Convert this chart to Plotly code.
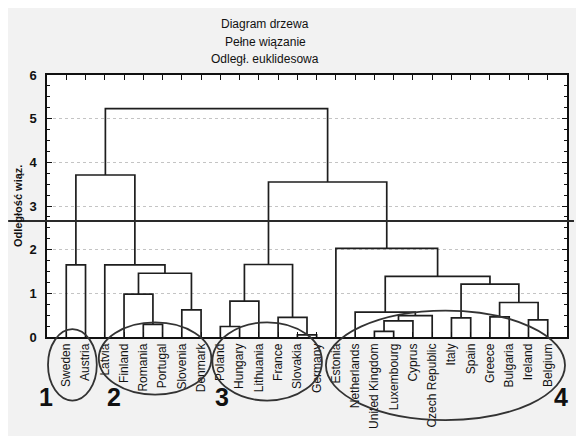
import plotly.graph_objects as go

# ---------------- data ----------------
leaves = ["Sweden", "Austria", "Latvia", "Finland", "Romania", "Portugal", "Slovenia",
          "Denmark", "Poland", "Hungary", "Lithuania", "France", "Slovakia", "Germany",
          "Estonia", "Netherlands", "United Kingdom", "Luxembourg", "Cyprus",
          "Czech Republic", "Italy", "Spain", "Greece", "Bulgaria", "Ireland", "Belgium"]

# merge k joins merge_left[k] and merge_right[k] at merge_height[k]
# (names are leaves, "m<k>" refers to an earlier merge)
merge_left = ["Sweden", "Romania", "Finland", "Slovenia", "m2", "Latvia", "m0",
              "Poland", "m7", "Slovakia", "France", "m8",
              "United Kingdom", "m12", "m13", "Netherlands", "Italy", "Greece",
              "Ireland", "m17", "m16", "m15", "Estonia", "m11", "m6"]
merge_right = ["Austria", "Portugal", "m1", "Denmark", "m3", "m4", "m5",
               "Hungary", "Lithuania", "Germany", "m9", "m10",
               "Luxembourg", "Cyprus", "Czech Republic", "m14", "Spain", "Bulgaria",
               "Belgium", "m18", "m19", "m20", "m21", "m22", "m23"]
merge_height = [1.65, 0.29, 0.98, 0.62, 1.46, 1.65, 3.71,
                0.24, 0.82, 0.05, 0.45, 1.66,
                0.13, 0.37, 0.49, 0.57, 0.44, 0.46,
                0.39, 0.79, 1.21, 1.39, 2.03, 3.55, 5.23]

cut_height = 2.655

title_lines = ["Diagram drzewa", "Pełne wiązanie", "Odległ. euklidesowa"]
y_title = "Odległość wiąz."
y_ticks = [0, 1, 2, 3, 4, 5, 6]
group_labels = ["1", "2", "3", "4"]

# ---------------- build dendrogram segments ----------------
pos = {name: (i + 1, 0.0) for i, name in enumerate(leaves)}
xs, ys = [], []
for k, (a, b, h) in enumerate(zip(merge_left, merge_right, merge_height)):
    xa, ya = pos[a]
    xb, yb = pos[b]
    xs += [xa, xa, xb, xb, None]
    ys += [ya, h, h, yb, None]
    pos["m%d" % k] = ((xa + xb) / 2.0, h)

fig = go.Figure()
fig.add_trace(go.Scatter(x=xs, y=ys, mode="lines",
                         line=dict(color="#1e1e1e", width=1.7),
                         hoverinfo="skip", showlegend=False))

# ---------------- layout ----------------
OFF = 8  # white page border (top / left)
W, H = 576 - OFF, 436 - OFF
L, R, T, B = 39, 7, 67, 93
pw, ph = W - L - R, H - T - B


def px(x):  # page pixel x -> paper
    return (x - OFF - L) / pw


def py(y):  # page pixel y -> paper
    return (H - B - (y - OFF)) / ph


FONT = "Liberation Sans, Arial, sans-serif"

shapes = []
# cut line
cy = cut_height / 6.0
shapes.append(dict(type="line", xref="paper", yref="paper", x0=px(OFF), x1=px(576),
                   y0=cy, y1=cy, line=dict(color="#2a2a2a", width=2)))
# ellipses around groups
ellipses = [(48, 335, 97, 408), (99, 328, 212, 402), (213, 328, 323, 408),
            (327, 316, 567, 428)]
for (x0, y0, x1, y1) in ellipses:
    shapes.append(dict(type="circle", xref="paper", yref="paper",
                       x0=px(x0), x1=px(x1), y0=py(y1), y1=py(y0),
                       line=dict(color="#333333", width=1.8)))

annotations = []
for i, t in enumerate(title_lines):
    annotations.append(dict(text=t, xref="paper", yref="paper", x=px(266),
                            y=py(23 + 18 * i), showarrow=False, xanchor="center",
                            yanchor="middle",
                            font=dict(family=FONT, size=12, color="#111")))
annotations.append(dict(text="<b>" + y_title + "</b>", xref="paper", yref="paper",
                        x=px(18), y=py(209), showarrow=False, textangle=-90,
                        xanchor="center", yanchor="middle",
                        font=dict(family=FONT, size=11, color="#111")))
num_pos = [(46, 404), (114, 404), (223, 404), (563, 404)]
for lab, (x, y) in zip(group_labels, num_pos):
    annotations.append(dict(text="<b>" + lab + "</b>", xref="paper", yref="paper",
                            x=px(x), y=py(y), showarrow=False, xanchor="center",
                            yanchor="middle",
                            font=dict(family=FONT, size=25, color="#111")))

fig.update_layout(
    width=W, height=H,
    margin=dict(l=L, r=R, t=T, b=B, pad=0),
    paper_bgcolor="#f2f2f2", plot_bgcolor="white",
    showlegend=False,
    shapes=shapes, annotations=annotations,
    font=dict(family=FONT, color="#111"),
)
fig.update_xaxes(
    range=[0, len(leaves) + 1], tickmode="array",
    tickvals=list(range(1, len(leaves) + 1)), ticktext=leaves,
    tickangle=-90, tickfont=dict(family=FONT, size=12, color="#111"),
    ticks="inside", ticklen=5, tickwidth=1.3, tickcolor="#111",
    showline=True, linecolor="#111", linewidth=1.5, mirror="ticks",
    showgrid=False, zeroline=False, fixedrange=True,
)
fig.update_yaxes(
    range=[0, 6], tickmode="array", tickvals=y_ticks,
    tickfont=dict(family=FONT, size=13, color="#111", weight="bold"),
    ticks="inside", ticklen=5, tickwidth=1.3, tickcolor="#111",
    ticklabelstandoff=6,
    minor=dict(dtick=0.25, ticks="inside", ticklen=3, tickcolor="#111",
               tickwidth=1, showgrid=False),
    showline=True, linecolor="#111", linewidth=1.5, mirror="ticks",
    showgrid=True, gridcolor="#c4c4c4", griddash="dot", gridwidth=1,
    zeroline=False, fixedrange=True,
)

fig.write_html(
    "out.html",
    post_script="document.body.style.margin='8px 0 0 8px';"
                "document.body.style.overflow='hidden';",
)
